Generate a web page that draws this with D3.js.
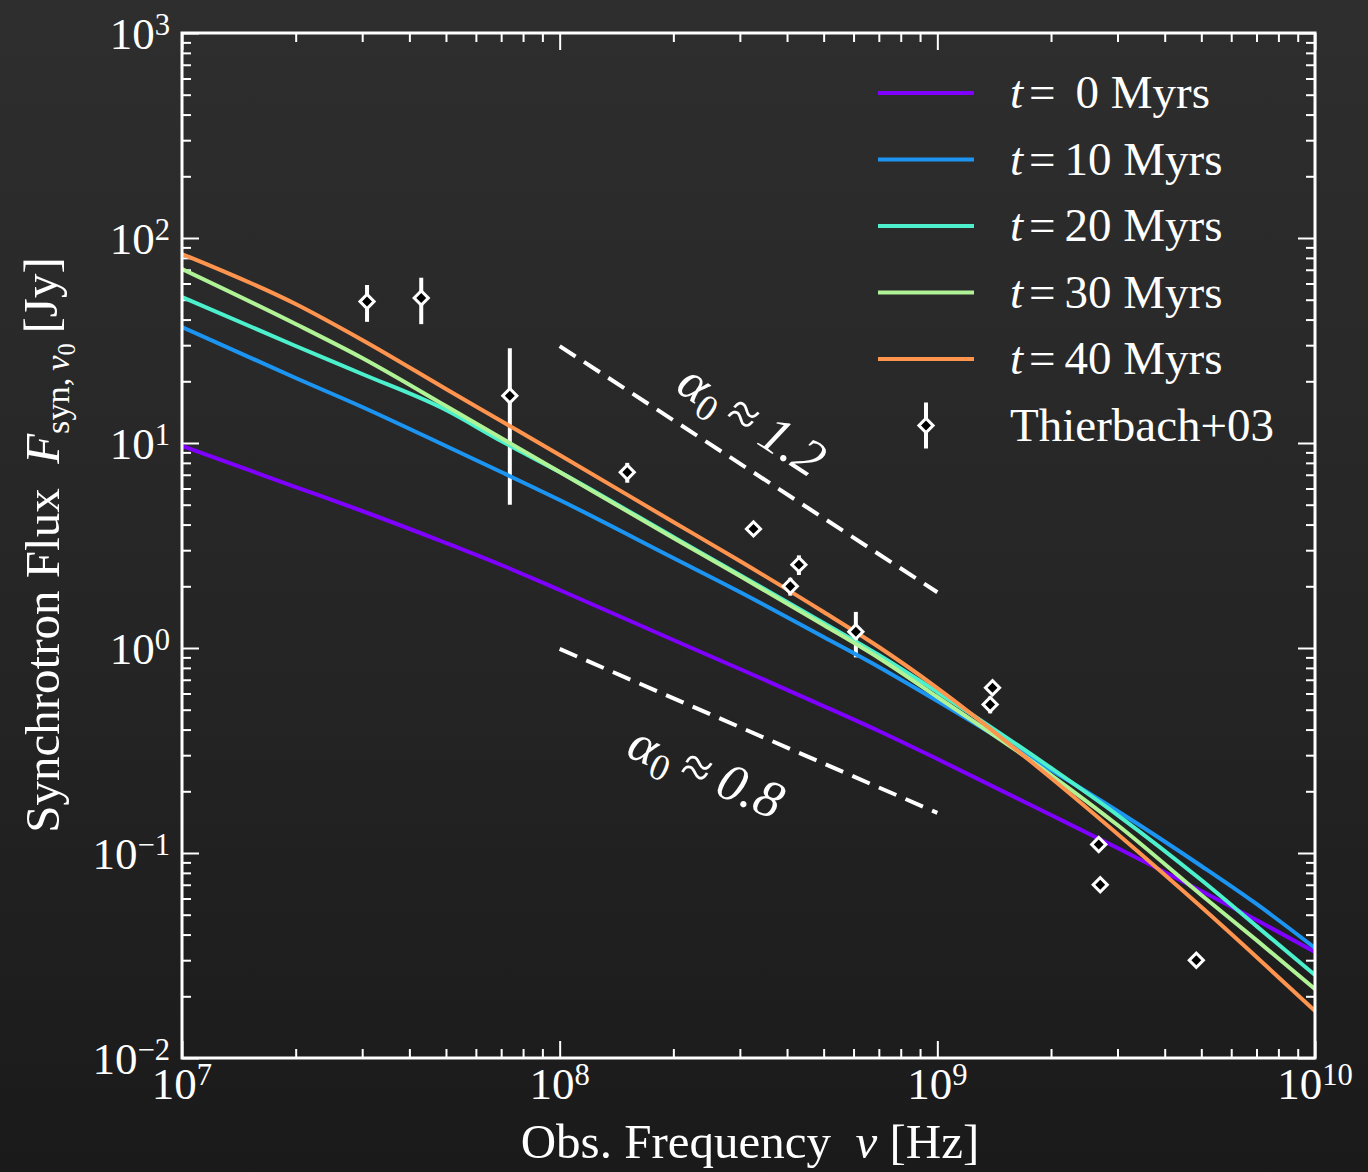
<!DOCTYPE html>
<html lang="en">
<head>
<meta charset="UTF-8">
<title>Synchrotron Flux</title>
<script src="https://cdn.jsdelivr.net/npm/d3@7"></script>
<style>
    body { margin: 0; background: #222; }
    text { font-family: "Liberation Serif", "DejaVu Serif", serif; fill: #fff; }
</style>
</head>
<body>
<svg id="chart" width="1368" height="1172"></svg>
<script>
// model curves (Hz, Jy)
const freqs = [1e7, 2e7, 3e7, 5e7, 7e7, 1e8, 2e8, 3e8, 5e8, 7e8, 1e9, 2e9, 3e9, 5e9, 7e9, 1e10];
const flux0  = [9.669, 6.10, 4.659, 3.252, 2.540, 1.919, 1.094, 0.790, 0.521, 0.3937, 0.2874, 0.1532, 0.1057, 0.0653, 0.0471, 0.0329];
const flux10 = [36.81, 20.75, 14.99, 9.669, 7.219, 5.272, 2.748, 1.876, 1.131, 0.808, 0.5513, 0.2540, 0.1602, 0.0864, 0.0564, 0.0344];
const flux20 = [51.54, 29.73, 21.71, 14.49, 10.23, 7.219, 3.479, 2.270, 1.324, 0.924, 0.610, 0.2598, 0.1532, 0.0738, 0.0440, 0.0254];
const flux30 = [70.61, 38.07, 25.98, 15.15, 10.58, 7.219, 3.440, 2.245, 1.295, 0.894, 0.5768, 0.2401, 0.1369, 0.0624, 0.0376, 0.0217];
const flux40 = [83.55, 47.64, 31.80, 18.34, 12.80, 8.738, 4.119, 2.657, 1.498, 1.011, 0.638, 0.2322, 0.1238, 0.0545, 0.0311, 0.01696];

const seriesNames = ["0", "10", "20", "30", "40"];
const seriesColors = ["#8000ff", "#1c95f2", "#4cf0cc", "#b0f296", "#ff944f"];

// Thierbach+03 measurements
const obsFreq = [30.9e6, 43e6, 73.8e6, 151e6, 326e6, 408e6, 430e6, 608.5e6, 1380e6, 1400e6, 2675e6, 2700e6, 4850e6];
const obsFlux = [49, 51, 17, 7.2, 3.81, 2.0, 2.55, 1.2, 0.53, 0.64, 0.11, 0.07, 0.03];
const obsErr  = [10, 13, 12, 0.8, 0.03, 0.2, 0.28, 0.3, 0.05, 0.035, 0.007, 0.004, 0.002];

// reference power laws F ~ nu^-alpha
const slopeAlpha = [1.2, 0.8];
const slopeFreq = [1e8, 1e9];
const slopeFlux = [[29.7, 1.87], [0.99, 0.157]];

const xMajor = [7, 8, 9, 10];
const yMajor = [-2, -1, 0, 1, 2, 3];

const W = 1368, H = 1172;
const plot = { left: 182, right: 1315, top: 33, bottom: 1058 };

const svg = d3.select("#chart");

// background
const defs = svg.append("defs");
const grad = defs.append("linearGradient").attr("id", "bg").attr("x1", 0).attr("y1", 0).attr("x2", 0).attr("y2", 1);
grad.append("stop").attr("offset", "0%").attr("stop-color", "#2e2e2e");
grad.append("stop").attr("offset", "55%").attr("stop-color", "#252525");
grad.append("stop").attr("offset", "100%").attr("stop-color", "#1a1a1a");
svg.append("rect").attr("width", W).attr("height", H).attr("fill", "url(#bg)");

defs.append("clipPath").attr("id", "clip")
    .append("rect")
    .attr("x", plot.left).attr("y", plot.top)
    .attr("width", plot.right - plot.left).attr("height", plot.bottom - plot.top);

const x = d3.scaleLog().domain([1e7, 1e10]).range([plot.left, plot.right]);
const y = d3.scaleLog().domain([1e-2, 1e3]).range([plot.bottom, plot.top]);

function minors(lo, hi) {
    let out = [];
    for (let e = lo; e < hi; e++)
        for (let k = 2; k <= 9; k++) out.push(k * Math.pow(10, e));
    return out;
}
const xMinor = minors(7, 10);
const yMinor = minors(-2, 3);

// ticks on all four sides, pointing inward
function ticks(axis, values, size, transform) {
    svg.append("g")
        .attr("transform", transform)
        .call(axis.tickValues(values).tickSize(-size).tickFormat(""))
        .call(g => g.select(".domain").remove())
        .selectAll("line").attr("stroke", "#fff").attr("stroke-width", 2);
}
const xMaj = xMajor.map(e => Math.pow(10, e));
const yMaj = yMajor.map(e => Math.pow(10, e));
ticks(d3.axisBottom(x), xMaj, 17, `translate(0,${plot.bottom})`);
ticks(d3.axisBottom(x), xMinor, 9, `translate(0,${plot.bottom})`);
ticks(d3.axisTop(x), xMaj, 17, `translate(0,${plot.top})`);
ticks(d3.axisTop(x), xMinor, 9, `translate(0,${plot.top})`);
ticks(d3.axisLeft(y), yMaj, 17, `translate(${plot.left},0)`);
ticks(d3.axisLeft(y), yMinor, 9, `translate(${plot.left},0)`);
ticks(d3.axisRight(y), yMaj, 17, `translate(${plot.right},0)`);
ticks(d3.axisRight(y), yMinor, 9, `translate(${plot.right},0)`);

function powLabel(t, e) {
    t.append("tspan").text("10");
    t.append("tspan").attr("dy", "-0.45em").attr("font-size", "0.68em")
        .text(e < 0 ? "\u2212" + (-e) : e);
}
xMajor.forEach(e => {
    const t = svg.append("text")
        .attr("x", x(Math.pow(10, e))).attr("y", plot.bottom + 41)
        .attr("text-anchor", "middle").attr("font-size", 45);
    powLabel(t, e);
});
yMajor.forEach(e => {
    const t = svg.append("text")
        .attr("x", plot.left - 12).attr("y", y(Math.pow(10, e)) + 16)
        .attr("text-anchor", "end").attr("font-size", 45);
    powLabel(t, e);
});

// axis titles
const xl = svg.append("text").attr("x", 750).attr("y", 1158)
    .attr("text-anchor", "middle").attr("font-size", 49);
xl.append("tspan").text("Obs. Frequency\u2002");
xl.append("tspan").attr("font-style", "italic").text("\u03bd");
xl.append("tspan").text(" [Hz]");

const yl = svg.append("text").attr("transform", "translate(59,545) rotate(-90)")
    .attr("text-anchor", "middle").attr("font-size", 49);
yl.append("tspan").text("Synchrotron Flux\u2002");
yl.append("tspan").attr("font-style", "italic").text("F");
yl.append("tspan").attr("dy", "0.3em").attr("font-size", "0.7em").text("syn,\u2009");
yl.append("tspan").attr("font-size", "0.7em").attr("font-style", "italic").text("\u03bd");
yl.append("tspan").attr("dy", "0.25em").attr("font-size", "0.5em").text("0");
yl.append("tspan").attr("dy", "-0.38em").text("\u2009[Jy]");

// dashed reference slopes
slopeAlpha.forEach((a, i) => {
    const p0 = [x(slopeFreq[0]), y(slopeFlux[i][0])];
    const p1 = [x(slopeFreq[1]), y(slopeFlux[i][1])];
    svg.append("line")
        .attr("x1", p0[0]).attr("y1", p0[1]).attr("x2", p1[0]).attr("y2", p1[1])
        .attr("stroke", "#fff").attr("stroke-width", 4).attr("stroke-dasharray", "19,10");
    const ang = Math.atan2(p1[1] - p0[1], p1[0] - p0[0]) * 180 / Math.PI;
    const mx = (p0[0] + p1[0]) / 2, my = (p0[1] + p1[1]) / 2;
    const off = i === 0 ? [4, -50] : [-42, 40];
    const t = svg.append("text")
        .attr("transform", `translate(${mx + off[0]},${my + off[1]}) rotate(${ang})`)
        .attr("text-anchor", "middle").attr("dy", "0.35em").attr("font-size", 53);
    t.append("tspan").attr("font-style", "italic").text("\u03b1");
    t.append("tspan").attr("dy", "0.25em").attr("font-size", "0.7em").text("0");
    t.append("tspan").attr("dy", "-0.18em").text("\u2009\u2248\u2009");
    t.append("tspan").attr("font-style", "italic").text(a.toFixed(1));
});

// error bars (under the curves)
const obs = obsFreq.map((f, i) => ({ f: f, v: obsFlux[i], e: obsErr[i] }));
svg.append("g").selectAll("line").data(obs).join("line")
    .attr("x1", d => x(d.f)).attr("x2", d => x(d.f))
    .attr("y1", d => y(d.v + d.e)).attr("y2", d => y(Math.max(d.v - d.e, 1e-3)))
    .attr("stroke", "#fff").attr("stroke-width", 4);

// model curves
const allFlux = [flux0, flux10, flux20, flux30, flux40];
const line = d3.line().x(d => x(d[0])).y(d => y(d[1])).curve(d3.curveMonotoneX);
const curves = svg.append("g").attr("clip-path", "url(#clip)");
allFlux.forEach((fl, i) => {
    curves.append("path")
        .attr("d", line(freqs.map((f, j) => [f, fl[j]])))
        .attr("fill", "none").attr("stroke", seriesColors[i]).attr("stroke-width", 4);
});

// diamonds
const diamond = d3.symbol().type(d3.symbolSquare).size(100);
svg.append("g").selectAll("path").data(obs).join("path")
    .attr("d", diamond)
    .attr("transform", d => `translate(${x(d.f)},${y(d.v)}) rotate(45)`)
    .attr("fill", "#000").attr("stroke", "#fff").attr("stroke-width", 3);

// frame
svg.append("rect")
    .attr("x", plot.left).attr("y", plot.top)
    .attr("width", plot.right - plot.left).attr("height", plot.bottom - plot.top)
    .attr("fill", "none").attr("stroke", "#fff").attr("stroke-width", 3);

// legend
const legend = svg.append("g");
seriesNames.forEach((n, i) => {
    const ly = 93 + i * 66.5;
    legend.append("line").attr("x1", 878).attr("x2", 974).attr("y1", ly).attr("y2", ly)
        .attr("stroke", seriesColors[i]).attr("stroke-width", 4);
    const t = legend.append("text").attr("x", 1010).attr("y", ly + 15).attr("font-size", 47);
    t.append("tspan").attr("font-style", "italic").text("t");
    t.append("tspan").attr("dx", 6).text("=");
    t.append("tspan").attr("dx", n.length === 1 ? 20 : 9).text(n);
    t.append("tspan").text(" Myrs");
});
const my = 93 + 5 * 66.5;
legend.append("line").attr("x1", 926).attr("x2", 926).attr("y1", my - 23).attr("y2", my + 23)
    .attr("stroke", "#fff").attr("stroke-width", 4);
legend.append("path").attr("d", diamond)
    .attr("transform", `translate(926,${my}) rotate(45)`)
    .attr("fill", "#000").attr("stroke", "#fff").attr("stroke-width", 3);
legend.append("text").attr("x", 1010).attr("y", my + 15).attr("font-size", 47).text("Thierbach+03");
</script>
</body>
</html>
